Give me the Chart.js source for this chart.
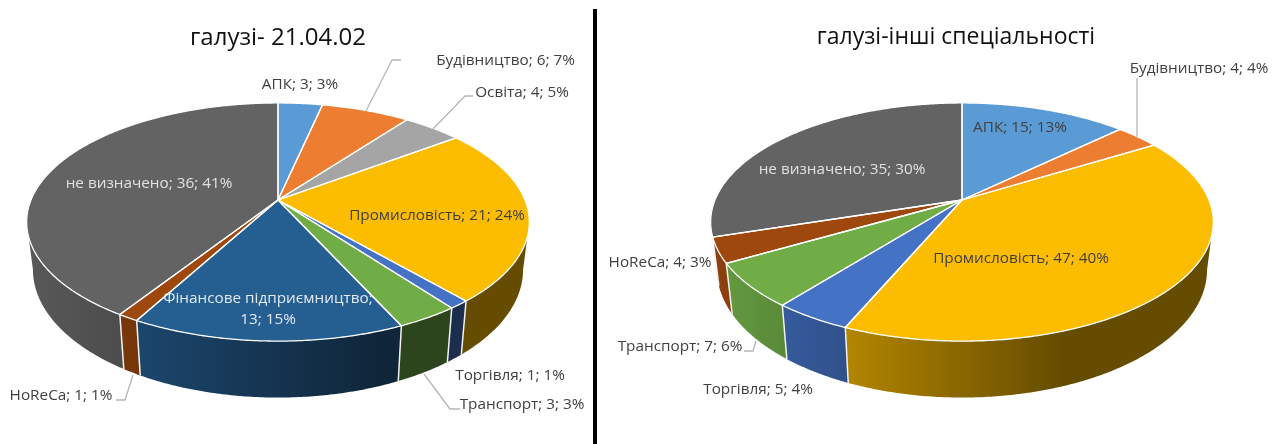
<!DOCTYPE html>
<html lang="uk">
<head>
<meta charset="utf-8">
<title>галузі</title>
<script src="https://cdn.jsdelivr.net/npm/chart.js@4"></script>
<style>
    html, body { margin: 0; padding: 0; background: #fff; overflow: hidden; }
    canvas { position: absolute; top: 0; }
    #leftChart { left: 0; }
    #rightChart { left: 600px; }
    #divider { position: absolute; left: 593px; top: 9px; width: 4px; height: 435px; background: #000; }
</style>
</head>
<body>
<canvas id="leftChart" width="590" height="444"></canvas>
<div id="divider"></div>
<canvas id="rightChart" width="676" height="444"></canvas>
<script>
const leftTitle = "галузі- 21.04.02"
const leftCategories = ["АПК", "Будівництво", "Освіта", "Промисловість", "Торгівля", "Транспорт", "Фінансове підприємництво", "HoReCa", "не визначено"]
const leftValues = [3, 6, 4, 21, 1, 3, 13, 1, 36]
const leftPercents = [3, 7, 5, 24, 1, 3, 15, 1, 41]

const rightTitle = "галузі-інші спеціальності"
const rightCategories = ["АПК", "Будівництво", "Промисловість", "Торгівля", "Транспорт", "HoReCa", "не визначено"]
const rightValues = [15, 4, 47, 5, 7, 4, 35]
const rightPercents = [13, 4, 40, 4, 6, 3, 30]

const leftColors = ["#5B9BD5", "#ED7D31", "#A5A5A5", "#FCBD00", "#4472C4", "#70AD47", "#255E91", "#9E480E", "#636363"]
const rightColors = ["#5B9BD5", "#ED7D31", "#FCBD00", "#4472C4", "#70AD47", "#9E480E", "#636363"]

// label layout, page pixels: [centre x, centre y, text colour, leader line]
const dark = "#404040"
const leftLabels = [
    [300, 85, dark],
    [505.5, 61, dark, [[366, 111], [392, 60], [401, 60]]],
    [522, 93, dark, [[433, 129], [465, 96], [473, 96]]],
    [437, 216, dark],
    [510, 376, dark],
    [522, 405, dark, [[424, 374], [450, 409], [460, 409]]],
    [268, 299, "#E3EAF2"],
    [61, 396, dark, [[133, 375], [125, 400], [116, 400]]],
    [149, 184, "#E0E0E0"]
]
const rightLabels = [
    [1020, 128, dark],
    [1199, 69, dark, [[1137, 78], [1137, 137]]],
    [1021, 259, dark],
    [758, 390, dark],
    [680, 347, dark, [[756, 341], [753, 351], [744, 351]]],
    [660, 263, dark],
    [842, 170, "#E0E0E0"]
]

const tilt = 0.185
const radiusX = 247
const radiusY = 115
const depth = 46
const baseScale = 0.975

function rimPoint(cx, cy, angle, bottom) {
    const w = 1 / (1 - tilt * Math.sin(angle))
    const x = radiusX * Math.cos(angle) * w
    const y = radiusY * Math.sin(angle) * w
    if (bottom) {
        return [cx + x * baseScale, cy + y + depth * w]
    }
    return [cx + x, cy + y]
}

function arcPoints(cx, cy, from, to, bottom) {
    const pts = []
    const steps = Math.max(2, Math.ceil((to - from) / 0.01))
    for (let i = 0; i <= steps; i++) {
        pts.push(rimPoint(cx, cy, from + (to - from) * i / steps, bottom))
    }
    return pts
}

function shade(hex, k) {
    const n = parseInt(hex.slice(1), 16)
    const r = Math.round((n >> 16 & 255) * k)
    const g = Math.round((n >> 8 & 255) * k)
    const b = Math.round((n & 255) * k)
    return "rgb(" + r + "," + g + "," + b + ")"
}

const pie3d = {
    id: "pie3d",
    beforeDatasetsDraw(chart, args, opts) {
        const ctx = chart.ctx
        const arcs = chart.getDatasetMeta(0).data
        const colors = chart.data.datasets[0].backgroundColor
        const cx = opts.cx - opts.originX
        const cy = opts.cy
        const lo = Math.asin(tilt)
        const hi = Math.PI - lo

        ctx.save()

        // side wall
        arcs.forEach((arc, i) => {
            const from = Math.max(arc.startAngle, lo)
            const to = Math.min(arc.endAngle, hi)
            if (to <= from) {
                return
            }
            const top = arcPoints(cx, cy, from, to, false)
            const low = arcPoints(cx, cy, from, to, true).reverse()
            const grad = ctx.createLinearGradient(cx - 250, 0, cx + 250, 0)
            grad.addColorStop(0, shade(colors[i], 0.9))
            grad.addColorStop(0.7, shade(colors[i], 0.4))
            grad.addColorStop(1, shade(colors[i], 0.4))
            ctx.beginPath()
            top.concat(low).forEach((p, n) => n ? ctx.lineTo(p[0], p[1]) : ctx.moveTo(p[0], p[1]))
            ctx.closePath()
            ctx.fillStyle = grad
            ctx.fill()
        })
        ctx.strokeStyle = "#F2F2F2"
        ctx.lineWidth = 1.5
        arcs.forEach(arc => {
            if (arc.endAngle > lo && arc.endAngle < hi) {
                const a = rimPoint(cx, cy, arc.endAngle, false)
                const b = rimPoint(cx, cy, arc.endAngle, true)
                ctx.beginPath()
                ctx.moveTo(a[0], a[1])
                ctx.lineTo(b[0], b[1])
                ctx.stroke()
            }
        })

        // top face
        arcs.forEach((arc, i) => {
            ctx.beginPath()
            ctx.moveTo(cx, cy)
            arcPoints(cx, cy, arc.startAngle, arc.endAngle, false).forEach(p => ctx.lineTo(p[0], p[1]))
            ctx.closePath()
            ctx.fillStyle = colors[i]
            ctx.fill()
        })
        arcs.forEach(arc => {
            ctx.beginPath()
            ctx.moveTo(cx, cy)
            arcPoints(cx, cy, arc.startAngle, arc.endAngle, false).forEach(p => ctx.lineTo(p[0], p[1]))
            ctx.closePath()
            ctx.strokeStyle = "#fff"
            ctx.lineWidth = 1.3
            ctx.lineJoin = "round"
            ctx.stroke()
        })

        // labels
        ctx.font = opts.font
        ctx.textAlign = "center"
        ctx.textBaseline = "middle"
        opts.labels.forEach((l, i) => {
            if (l[3]) {
                ctx.beginPath()
                l[3].forEach((p, n) => n ? ctx.lineTo(p[0] - opts.originX, p[1]) : ctx.moveTo(p[0] - opts.originX, p[1]))
                ctx.strokeStyle = "#B5B5B5"
                ctx.lineWidth = 1.3
                ctx.stroke()
            }
            const tail = chart.data.datasets[0].data[i] + "; " + opts.percents[i] + "%"
            const name = chart.data.labels[i]
            ctx.fillStyle = l[2]
            if (name.length > 20) {
                ctx.fillText(name + ";", l[0] - opts.originX, l[1])
                ctx.fillText(tail, l[0] - opts.originX, l[1] + 21)
            } else {
                ctx.fillText(name + "; " + tail, l[0] - opts.originX, l[1])
            }
        })

        ctx.restore()
        return false
    }
}

function pieOptions(title, titleSize, padLeft, padRight, cx, originX, labels, percents) {
    this.responsive = false
    this.animation = false
    this.layout = { padding: { left: padLeft, right: padRight } }
    this.plugins = {
        legend: { display: false },
        tooltip: { enabled: false },
        title: {
            display: true,
            text: title,
            color: "#111",
            font: { family: "'Open Sans'", size: titleSize, weight: "normal" },
            padding: { top: 24, bottom: 10 }
        },
        pie3d: {
            cx: cx,
            cy: 200,
            originX: originX,
            labels: labels,
            percents: percents,
            font: "15.3px 'Open Sans'"
        }
    }
}

const leftChart = new Chart(
    document.getElementById("leftChart"),
    {
        type: "pie",
        data: {
            labels: leftCategories,
            datasets: [{ data: leftValues, backgroundColor: leftColors }]
        },
        options: new pieOptions(leftTitle, 24, 0, 34, 278, 0, leftLabels, leftPercents),
        plugins: [pie3d]
    }
)

const rightChart = new Chart(
    document.getElementById("rightChart"),
    {
        type: "pie",
        data: {
            labels: rightCategories,
            datasets: [{ data: rightValues, backgroundColor: rightColors }]
        },
        options: new pieOptions(rightTitle, 23, 36, 0, 962, 600, rightLabels, rightPercents),
        plugins: [pie3d]
    }
)
</script>
</body>
</html>
